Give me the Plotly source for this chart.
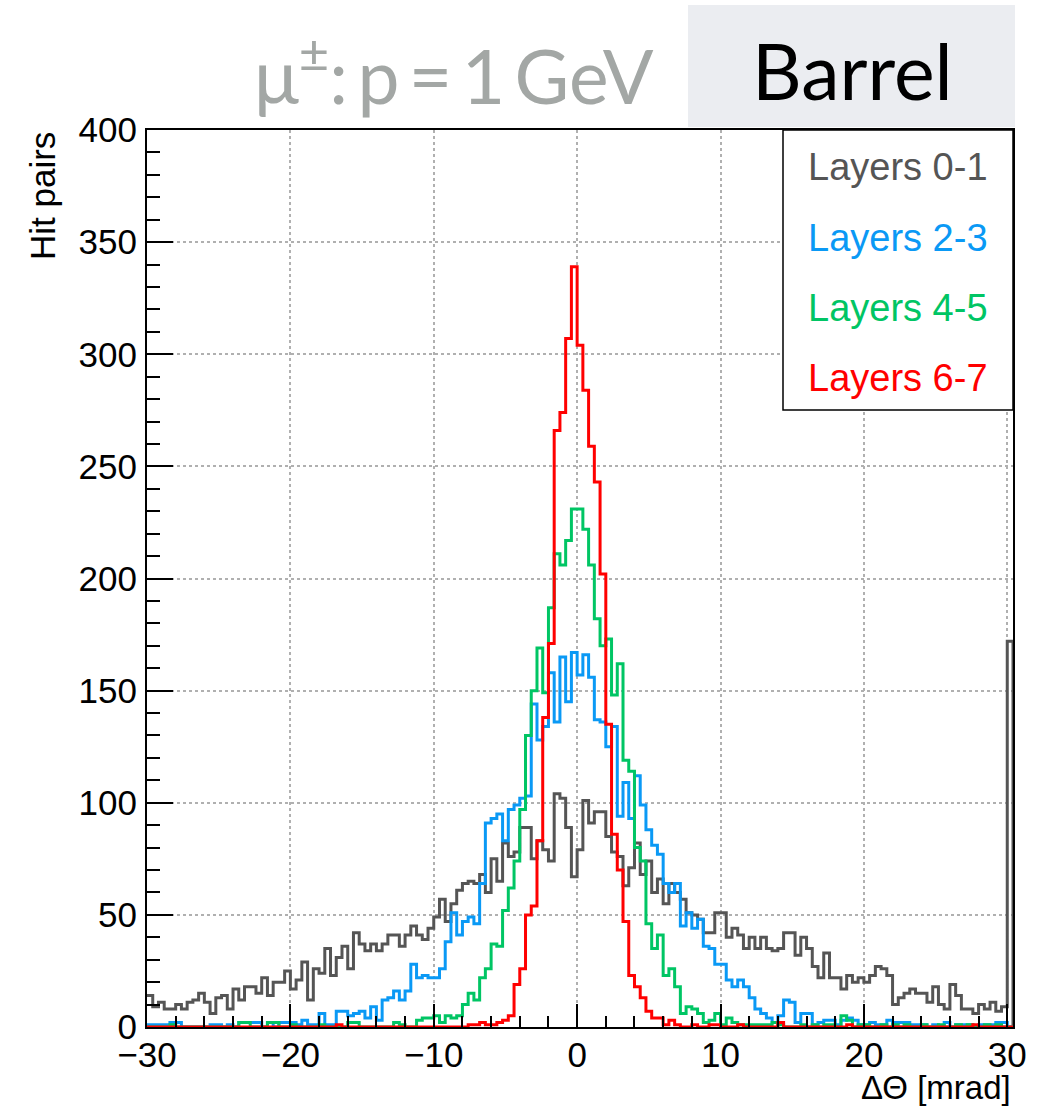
import numpy as np
import plotly.graph_objects as go

# ---------------- data ----------------
x_start = -30.0          # mrad, left edge of first bin
bin_width = 0.4          # mrad
series_names = ["Layers 0-1", "Layers 2-3", "Layers 4-5", "Layers 6-7"]

layers_0_1 = [14, 9, 11, 8, 8, 10, 8, 11, 12, 15,
              11, 6, 13, 14, 8, 17, 12, 18, 18, 15,
              22, 14, 20, 20, 25, 17, 21, 29, 12, 26,
              24, 35, 23, 31, 36, 26, 42, 37, 34, 37,
              34, 37, 41, 41, 36, 41, 45, 41, 39, 44,
              49, 57, 47, 55, 61, 64, 65, 64, 68, 60,
              75, 65, 82, 76, 78, 89, 89, 75, 83, 79,
              74, 104, 102, 89, 67, 79, 101, 91, 96, 96,
              85, 78, 76, 63, 71, 82, 68, 74, 60, 66,
              55, 64, 60, 57, 51, 50, 48, 42, 42, 51,
              51, 40, 44, 41, 35, 40, 35, 40, 35, 34,
              35, 42, 42, 32, 40, 35, 27, 22, 33, 22,
              22, 17, 23, 20, 22, 20, 23, 27, 26, 23,
              10, 13, 15, 17, 15, 15, 11, 18, 10, 8,
              19, 14, 8, 8, 6, 10, 8, 11, 7, 9,
              172]

layers_2_3 = [1, 1, 1, 1, 2, 2, 0, 0, 0, 0,
              0, 1, 1, 0, 1, 0, 2, 2, 2, 2,
              0, 2, 0, 2, 2, 2, 1, 3, 1, 1,
              6, 1, 1, 7, 7, 5, 6, 7, 4, 9,
              3, 12, 13, 16, 12, 16, 28, 22, 23, 22,
              22, 26, 38, 51, 41, 47, 49, 46, 64, 91,
              93, 95, 83, 97, 99, 102, 103, 144, 128, 134,
              158, 136, 165, 145, 167, 157, 166, 156, 137, 136,
              125, 134, 94, 109, 93, 112, 99, 88, 81, 77,
              64, 60, 64, 45, 51, 44, 48, 36, 35, 28,
              28, 21, 18, 21, 18, 13, 8, 6, 4, 2,
              5, 12, 11, 2, 6, 6, 1, 2, 3, 3,
              1, 3, 4, 3, 1, 1, 2, 1, 1, 3,
              2, 2, 2, 1, 1, 1, 0, 1, 0, 2,
              0, 1, 1, 1, 0, 1, 1, 1, 2, 2,
              0]

layers_4_5 = [0, 0, 0, 0, 1, 0, 0, 0, 0, 0,
              0, 0, 0, 0, 0, 0, 2, 2, 0, 0,
              0, 2, 2, 0, 0, 1, 0, 0, 0, 0,
              1, 0, 0, 0, 0, 2, 2, 0, 0, 0,
              0, 0, 0, 2, 1, 0, 0, 3, 4, 4,
              5, 2, 5, 4, 5, 10, 15, 12, 22, 26,
              37, 36, 52, 62, 74, 97, 130, 150, 169, 149,
              187, 211, 206, 217, 231, 231, 222, 206, 182, 170,
              173, 148, 162, 119, 114, 80, 74, 46, 35, 41,
              23, 26, 18, 6, 9, 8, 6, 2, 3, 6,
              1, 4, 2, 1, 1, 1, 1, 1, 1, 2,
              1, 0, 0, 0, 1, 0, 1, 0, 1, 1,
              0, 5, 3, 0, 1, 1, 0, 0, 1, 0,
              1, 0, 1, 0, 0, 1, 0, 0, 1, 0,
              0, 1, 0, 1, 0, 0, 1, 0, 1, 0,
              0]

layers_6_7 = [0, 0, 0, 0, 0, 0, 0, 0, 0, 0,
              0, 0, 0, 0, 0, 0, 0, 0, 0, 0,
              0, 0, 0, 0, 0, 0, 0, 0, 0, 0,
              0, 0, 0, 1, 0, 0, 0, 0, 0, 0,
              0, 0, 0, 0, 0, 0, 0, 0, 0, 0,
              0, 0, 0, 0, 0, 0, 1, 1, 2, 1,
              1, 2, 3, 5, 19, 26, 50, 54, 83, 138,
              171, 266, 274, 307, 339, 304, 284, 259, 243, 202,
              135, 86, 70, 47, 23, 18, 13, 7, 4, 4,
              1, 3, 1, 0, 0, 1, 0, 0, 1, 1,
              0, 0, 0, 1, 0, 0, 0, 0, 0, 0,
              2, 0, 0, 0, 0, 0, 0, 0, 0, 0,
              0, 0, 1, 0, 0, 0, 0, 0, 0, 0,
              0, 0, 0, 0, 0, 0, 0, 0, 0, 0,
              0, 0, 0, 0, 1, 0, 0, 0, 0, 0,
              0]

x_tick_values = [-30, -20, -10, 0, 10, 20, 30]
y_tick_values = [0, 50, 100, 150, 200, 250, 300, 350, 400]

# ---------------- style ----------------
colors = ["#555555", "#0a99f5", "#00c564", "#ff0000"]
all_series = [layers_0_1, layers_2_3, layers_4_5, layers_6_7]

W, H = 1043, 1107
ML, MR, MT, MB = 147, 30, 130, 80
pw, ph = W - ML - MR, H - MT - MB


def px_to_paper_x(px):
    return (px - ML) / pw


def px_to_paper_y(py):
    return (H - MB - py) / ph


fig = go.Figure()
for vals, col, name in zip(all_series, colors, series_names):
    n = len(vals)
    edges = x_start + bin_width * np.arange(n + 1)
    xs = list(edges) + [edges[-1]]
    ys = list(vals) + [vals[-1], 0]
    fig.add_trace(go.Scatter(x=xs, y=ys, mode="lines", line_shape="hv",
                             line=dict(color=col, width=3), name=name,
                             showlegend=False, hoverinfo="skip"))

x_end = x_start + bin_width * len(layers_0_1)
tick_font = dict(family="Liberation Sans, Arial, sans-serif", size=35, color="black")

fig.update_xaxes(range=[x_start, x_end], tickvals=x_tick_values,
                 ticks="inside", ticklen=23, tickwidth=2, tickcolor="black",
                 showline=True, linewidth=2, linecolor="black", mirror=True,
                 showgrid=True, gridcolor="#b0b0b0", griddash="dot", gridwidth=1.5,
                 zeroline=False, tickfont=tick_font, ticklabelstandoff=-4,
                 minor=dict(dtick=2, tick0=-30, ticks="inside", ticklen=11,
                            tickwidth=2, tickcolor="black", showgrid=False))
fig.update_yaxes(range=[0, 400], tickvals=y_tick_values,
                 ticks="inside", ticklen=26, tickwidth=2, tickcolor="black",
                 showline=True, linewidth=2, linecolor="black", mirror=True,
                 showgrid=True, gridcolor="#b0b0b0", griddash="dot", gridwidth=1.5,
                 zeroline=False, tickfont=tick_font, ticklabelstandoff=1,
                 minor=dict(dtick=10, ticks="inside", ticklen=13,
                            tickwidth=2, tickcolor="black", showgrid=False))

shapes = [
    # "Barrel" header box
    dict(type="rect", xref="paper", yref="paper",
         x0=px_to_paper_x(688), x1=px_to_paper_x(1015),
         y0=px_to_paper_y(127), y1=px_to_paper_y(5),
         fillcolor="#ebedf1", line=dict(width=0), layer="below"),
    # legend box
    dict(type="rect", xref="paper", yref="paper",
         x0=px_to_paper_x(783), x1=1.0,
         y0=px_to_paper_y(410), y1=1.0,
         fillcolor="white", line=dict(color="black", width=1.5), layer="above"),
]

thin = "\u2009"
annotations = [
    dict(text=f"μ<sup>±</sup>:{thin}p{thin}={thin}1{thin}GeV", xref="paper", yref="paper",
         x=px_to_paper_x(656), y=px_to_paper_y(70), xanchor="right", yanchor="middle",
         showarrow=False, font=dict(family="Lato, sans-serif", size=75, color="#a3a7a5")),
    dict(text="Barrel", xref="paper", yref="paper",
         x=px_to_paper_x(852), y=px_to_paper_y(70), xanchor="center", yanchor="middle",
         showarrow=False, font=dict(family="Lato, sans-serif", size=77, color="black")),
    dict(text="Hit pairs", xref="paper", yref="paper", textangle=-90,
         x=px_to_paper_x(42), y=1.0, xanchor="center", yanchor="top",
         showarrow=False, font=dict(family="Liberation Sans, Arial, sans-serif", size=35, color="black")),
    dict(text="ΔΘ [mrad]", xref="paper", yref="paper",
         x=1.0, y=px_to_paper_y(1087), xanchor="right", yanchor="middle",
         showarrow=False, font=dict(family="Liberation Sans, Arial, sans-serif", size=33, color="black")),
]

legend_y = [167, 238, 308, 378]
for name, col, ly in zip(series_names, colors, legend_y):
    annotations.append(dict(text=name, xref="paper", yref="paper",
                            x=px_to_paper_x(806), y=px_to_paper_y(ly),
                            xanchor="left", yanchor="middle", showarrow=False,
                            font=dict(family="Liberation Sans, Arial, sans-serif",
                                      size=38, color=col)))

fig.update_layout(width=W, height=H, margin=dict(l=ML, r=MR, t=MT, b=MB),
                  paper_bgcolor="white", plot_bgcolor="white",
                  shapes=shapes, annotations=annotations, showlegend=False)

fig.write_html("out.html")
